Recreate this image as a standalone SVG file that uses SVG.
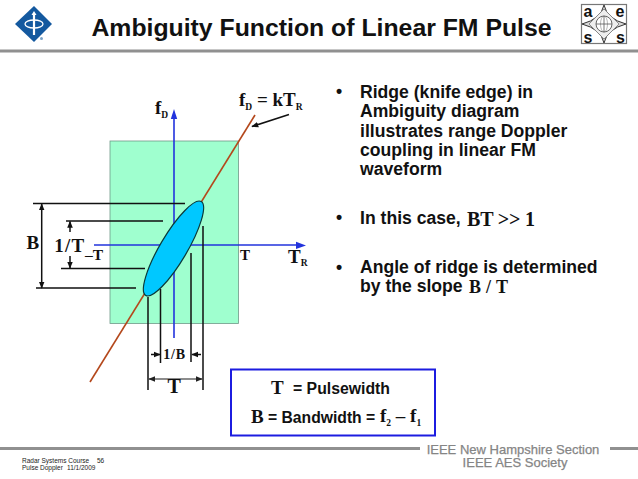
<svg xmlns="http://www.w3.org/2000/svg" width="638" height="479" viewBox="0 0 638 479">
<style>
.s{font-family:"Liberation Sans",Arial,sans-serif;font-weight:bold;fill:#111}
.t{font-family:"Liberation Serif","Times New Roman",serif;font-weight:bold;fill:#111}
.b{font-family:"Liberation Sans",Arial,sans-serif;font-weight:bold;fill:#111;font-size:17.6px}
.g{font-family:"Liberation Sans",Arial,sans-serif;fill:#858585;font-size:13px;text-anchor:middle;stroke:#858585;stroke-width:.25}
.f{font-family:"Liberation Sans",Arial,sans-serif;fill:#222;font-size:6.500px}
.k{stroke:#111;stroke-width:1.5;fill:none}
.bl{stroke:#2233dd;stroke-width:1.6;fill:none}
</style>
<defs>
<marker id="ah" viewBox="0 0 10 10" refX="9" refY="5" markerWidth="7" markerHeight="7" markerUnits="userSpaceOnUse" orient="auto-start-reverse"><path d="M0 1L10 5L0 9Z" fill="#111"/></marker>
<marker id="ag" viewBox="0 0 10 10" refX="9" refY="5" markerWidth="7" markerHeight="7" markerUnits="userSpaceOnUse" orient="auto-start-reverse"><path d="M0 1L10 5L0 9Z" fill="#222"/></marker>
</defs>
<rect width="638" height="479" fill="#fff"/>
<g id="header-rule"><rect x="0" y="49.500" width="638" height="3" fill="#909090"/></g>
<g id="ieee-logo">
<path d="M34 6L52 24L34 42L15 24Z" fill="#14599f"/>
<ellipse cx="34" cy="24" rx="9" ry="4" fill="none" stroke="#fff" stroke-width="1.300"/>
<path d="M34 13V35" stroke="#fff" stroke-width="2.200"/><path d="M34 11l-2.500 4h5Z" fill="#fff"/>
<circle cx="41.500" cy="38.500" r="1.500" fill="#7ba3c8"/>
</g>
<text id="title" class="s" x="321.500" y="35.500" font-size="24.800" text-anchor="middle">Ambiguity Function of Linear FM Pulse</text>
<g id="aes-logo">
<rect x="581.500" y="4.500" width="45" height="39" fill="#fff" stroke="#777" stroke-width="1.200"/>
<path d="M604 5Q607 19 626 24Q607 29 604 43Q601 29 582 24Q601 19 604 5Z" fill="#d8d8d8" stroke="#333"/>
<path d="M604 9L619 24L604 39L589 24Z" fill="#eee" stroke="#777" stroke-width=".8"/>
<circle cx="604" cy="24" r="8" fill="#fff" stroke="#555" stroke-width=".9"/>
<ellipse cx="604" cy="24" rx="3.500" ry="8" fill="none" stroke="#888" stroke-width=".6"/>
<path d="M604 16V32M596 24H612" stroke="#555" stroke-width=".8"/>
<text class="s" x="583.500" y="17" font-size="16">a</text><text class="s" x="615.500" y="17" font-size="16">e</text>
<text class="s" x="583.500" y="42.500" font-size="16">s</text><text class="s" x="616" y="42.500" font-size="16">s</text>
</g>
<rect id="plane" x="110" y="141" width="128.500" height="182.500" fill="#9fffcf" stroke="#6f9a88" stroke-width=".8"/>
<g id="connectors">
<path d="M90 382L255 115" stroke="#b4481c" stroke-width="1.600" fill="none"/>
<path class="bl" d="M174 338V118"/><path d="M170.800 119L174 109L177.200 119Z" fill="#2233dd"/>
<path class="bl" d="M94 245H296"/><path d="M296 241.800L306 245.500L296 249Z" fill="#2233dd"/>
<path d="M289 114.500L252 126.500" class="k" marker-end="url(#ah)"/>
<path class="k" d="M33 203.500H185M66 221H163M61 268.500H145M36 288H136M148 297V390M160.500 289V363M191 253V362M203 226V390"/>
<path class="k" d="M41.700 204V288" marker-start="url(#ah)" marker-end="url(#ah)"/>
<path class="k" d="M70 232V221.500" marker-end="url(#ah)"/>
<path class="k" d="M70 256V268" marker-end="url(#ah)"/>
<path class="k" d="M151 354.500H160" marker-end="url(#ah)"/>
<path class="k" d="M201 354.500H192" marker-end="url(#ah)"/>
<path d="M149 379H202" stroke="#666" stroke-width="1.500" fill="none" marker-start="url(#ag)" marker-end="url(#ag)"/>
</g>
<g id="ridge-ellipse"><ellipse cx="173.500" cy="248.500" rx="54.500" ry="13.500" transform="rotate(-59.400 173.500 248.500)" fill="#00c8ff" stroke="#0b3a3a" stroke-width="1.200"/></g>
<g id="diagram-labels">
<text class="t" x="155" y="113.500" font-size="19">f<tspan font-size="9.500" dy="4">D</tspan></text>
<text class="t" x="239" y="106" font-size="19">f<tspan font-size="9.500" dy="4">D</tspan><tspan dy="-4"> = kT</tspan><tspan font-size="9.500" dy="4">R</tspan></text>
<text class="t" x="26.500" y="249" font-size="19">B</text>
<text class="t" x="54.300" y="251.500" font-size="19" letter-spacing="1.200">1/T</text>
<text class="t" x="85" y="260" font-size="15.500">–T</text>
<text class="t" x="240" y="260" font-size="15">T</text>
<text class="t" x="288" y="263" font-size="19">T<tspan font-size="9.500" dy="3">R</tspan></text>
<text class="t" x="163.300" y="359" font-size="14" letter-spacing=".8">1/B</text>
<text class="t" x="167.500" y="393" font-size="20">T</text>
</g>
<g id="legend">
<rect x="231" y="369.500" width="204" height="66" fill="#fff" stroke="#1c1ce0" stroke-width="2"/>
<text class="t" x="271" y="394" font-size="19">T</text>
<text class="s" x="293" y="394" font-size="15.800">= Pulsewidth</text>
<text class="t" x="251" y="423" font-size="19">B</text>
<text class="s" x="268" y="423" font-size="15.700">= Bandwidth =</text>
<text class="t" x="380" y="422" font-size="19">f<tspan font-size="9.500" dy="4">2</tspan><tspan dy="-4"> – f</tspan><tspan font-size="9.500" dy="4">1</tspan></text>
</g>
<g id="bullets">
<text class="b" x="336" y="96.500">•</text>
<text class="b" x="360" y="97.500">Ridge (knife edge) in</text>
<text class="b" x="360" y="117">Ambiguity diagram</text>
<text class="b" x="360" y="136.500">illustrates range Doppler</text>
<text class="b" x="360" y="155.500">coupling in linear FM</text>
<text class="b" x="360" y="175">waveform</text>
<text class="b" x="336" y="222.500">•</text>
<text class="b" x="360" y="224">In this case,</text>
<text class="t" x="467" y="226" font-size="20" letter-spacing="-.2">BT &gt;&gt; 1</text>
<text class="b" x="336" y="272.500">•</text>
<text class="b" x="360" y="273">Angle of ridge is determined</text>
<text class="b" x="360" y="292">by the slope</text>
<text class="t" x="469" y="292.500" font-size="18" letter-spacing=".3">B / T</text>
</g>
<g id="footer">
<rect x="0" y="447" width="420" height="3" fill="#909090"/>
<rect x="610" y="447" width="28" height="3" fill="#909090"/>
<text class="g" x="513" y="454">IEEE New Hampshire Section</text>
<text class="g" x="515" y="467">IEEE AES Society</text>
<text class="f" x="22" y="462.700">Radar Systems Course</text><text class="f" x="97" y="462.700">56</text>
<text class="f" x="22" y="469.500">Pulse Doppler</text><text class="f" x="67" y="469.500">11/1/2009</text>
</g>
</svg>
